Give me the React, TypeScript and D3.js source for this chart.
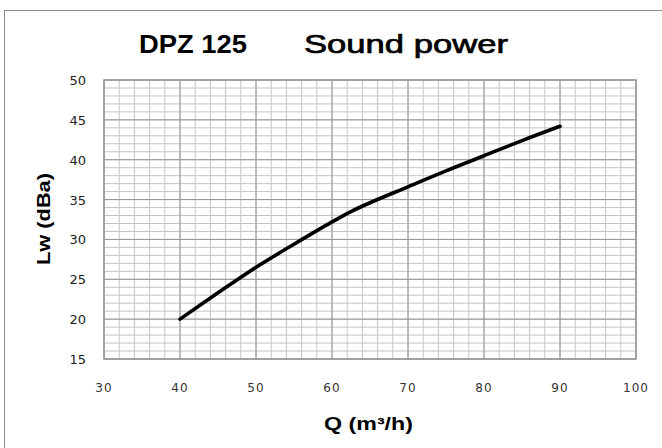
import React from 'react';
import * as d3 from 'd3';

// values
const flowQ = [40, 45, 50, 55, 60, 62.5, 65, 70, 75, 80, 85, 90];
const soundLw = [20.0, 23.3, 26.5, 29.4, 32.2, 33.5, 34.6, 36.6, 38.6, 40.5, 42.4, 44.2];
const xTicks = [30, 40, 50, 60, 70, 80, 90, 100];
const yTicks = [15, 20, 25, 30, 35, 40, 45, 50];

const W = 662;
const H = 448;

const App = () => {
    const x = d3.scaleLinear().domain([30, 100]).range([104, 636]);
    const y = d3.scaleLinear().domain([15, 50]).range([359, 80]);

    const minorX = d3.range(30, 100.01, 2);
    const minorY = d3.range(15, 50.01, 1);

    const line = d3.line<number>()
        .x((d, i) => x(flowQ[i]))
        .y((d) => y(d))
        .curve(d3.curveCatmullRom);

    const tickFont = '"DejaVu Sans", Verdana, sans-serif';
    const labelFont = '"Liberation Sans", Arial, sans-serif';

    return (
        <svg width={W} height={H} style={{ position: 'absolute', left: 0, top: 0, background: 'white' }}>
            <rect x={4.5} y={10.5} width={700} height={500} fill="white" stroke="#8c8c8c" />

            {/* minor grid */}
            {minorX.map((v) => (
                <line key={'mx' + v} x1={x(v)} x2={x(v)} y1={y(15)} y2={y(50)} stroke="#c4c4c4" strokeWidth={1} />
            ))}
            {minorY.map((v) => (
                <line key={'my' + v} x1={x(30)} x2={x(100)} y1={y(v)} y2={y(v)} stroke="#c4c4c4" strokeWidth={1} />
            ))}
            {/* major grid */}
            {xTicks.map((v) => (
                <line key={'Mx' + v} x1={x(v)} x2={x(v)} y1={y(15)} y2={y(50)} stroke="#969696" strokeWidth={1} />
            ))}
            {yTicks.map((v) => (
                <line key={'My' + v} x1={x(30)} x2={x(100)} y1={y(v)} y2={y(v)} stroke="#969696" strokeWidth={1} />
            ))}
            <rect x={x(30)} y={y(50)} width={x(100) - x(30)} height={y(15) - y(50)} fill="none" stroke="#999" strokeWidth={1.5} />

            <path d={line(soundLw) || ''} fill="none" stroke="#000" strokeWidth={3.6} strokeLinecap="round" />

            {yTicks.map((v) => (
                <text key={'yt' + v} x={86} y={y(v) + 5} textAnchor="end" fontFamily={tickFont} fontSize={13} fill="#222">
                    {v}
                </text>
            ))}
            {xTicks.map((v) => (
                <text key={'xt' + v} x={x(v)} y={391.5} textAnchor="middle" fontFamily={tickFont} fontSize={12} fill="#333" letterSpacing={1}>
                    {v}
                </text>
            ))}

            <text x={139} y={53} fontFamily={labelFont} fontSize={25} fontWeight="bold" textLength={108} lengthAdjust="spacingAndGlyphs">
                DPZ 125
            </text>
            <text x={304} y={53} fontFamily={labelFont} fontSize={26} stroke="#000" strokeWidth={0.7} textLength={204} lengthAdjust="spacingAndGlyphs">
                Sound power
            </text>

            <text x={324} y={430} fontFamily={labelFont} fontSize={18} fontWeight="bold" textLength={89} lengthAdjust="spacingAndGlyphs">
                Q (m³/h)
            </text>
            <text transform="translate(50,265) rotate(-90)" fontFamily={labelFont} fontSize={18} fontWeight="bold" textLength={92} lengthAdjust="spacingAndGlyphs">
                Lw (dBa)
            </text>
        </svg>
    );
};

export default App;
